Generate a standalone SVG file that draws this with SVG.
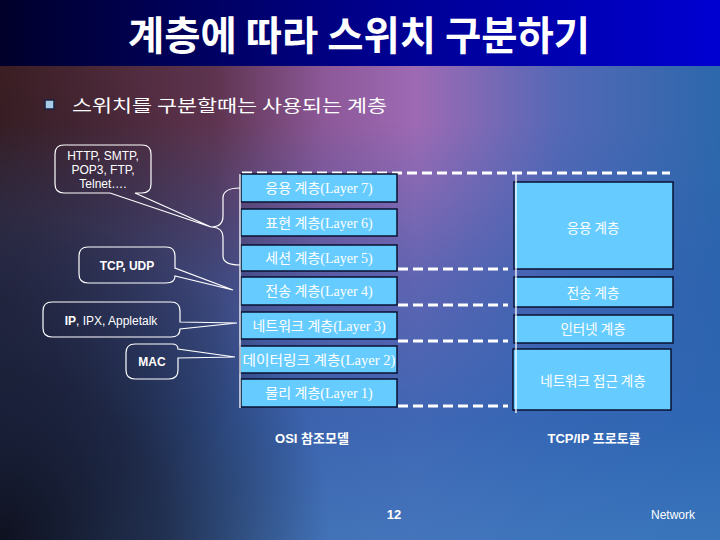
<svg xmlns="http://www.w3.org/2000/svg" width="720" height="540" viewBox="0 0 720 540">
<defs>
<linearGradient id="titleG" x1="0" y1="0" x2="1" y2="0">
<stop offset="0" stop-color="#00002a"/>
<stop offset="0.5" stop-color="#00008a"/>
<stop offset="1" stop-color="#0000d2"/>
</linearGradient>
<linearGradient id="bgH" x1="0" y1="0" x2="1" y2="0">
<stop offset="0" stop-color="#3c1e22"/>
<stop offset="0.3" stop-color="#5e3450"/>
<stop offset="0.45" stop-color="#8c5898"/>
<stop offset="0.58" stop-color="#9e6ab4"/>
<stop offset="0.78" stop-color="#5468b6"/>
<stop offset="1" stop-color="#2c68ac"/>
</linearGradient>
<linearGradient id="bgV" x1="0" y1="0" x2="0" y2="1">
<stop offset="0.12" stop-color="#2c62b0" stop-opacity="0"/>
<stop offset="0.45" stop-color="#2c60b0" stop-opacity="0.55"/>
<stop offset="0.75" stop-color="#2e66b4" stop-opacity="0.85"/>
<stop offset="1" stop-color="#3a76bc" stop-opacity="0.9"/>
</linearGradient>
<radialGradient id="bgDark" cx="0" cy="540" r="330" gradientUnits="userSpaceOnUse">
<stop offset="0" stop-color="#0c0c18" stop-opacity="0.95"/>
<stop offset="0.5" stop-color="#161628" stop-opacity="0.7"/>
<stop offset="1" stop-color="#1a1a30" stop-opacity="0"/>
</radialGradient>
<radialGradient id="bgDark2" cx="0" cy="300" r="260" gradientUnits="userSpaceOnUse">
<stop offset="0" stop-color="#201a2a" stop-opacity="0.6"/>
<stop offset="1" stop-color="#201a2a" stop-opacity="0"/>
</radialGradient>
<style>
.box{fill:#66ccff;stroke:#0a1030;stroke-width:1.5}
.lt{font-family:"Liberation Serif","Noto Sans CJK KR",serif;font-size:14px;fill:#ffffff;text-anchor:middle}
.rt{font-family:"Noto Sans CJK KR","Liberation Sans",sans-serif;font-size:13.5px;fill:#ffffff;text-anchor:middle}
.co{fill:none;stroke:#ffffff;stroke-width:1.2}
.ct{font-family:"Liberation Sans","Noto Sans CJK KR",sans-serif;font-size:12px;fill:#ffffff;text-anchor:middle}
.b{font-weight:bold}
.dash{stroke:#ffffff;stroke-width:3;stroke-dasharray:10 5;fill:none}
.vl{stroke:#ffffff;stroke-width:1.3;fill:none}
.cap{font-family:"Liberation Sans","Noto Sans CJK KR",sans-serif;font-size:13px;font-weight:bold;fill:#ffffff;text-anchor:middle}
</style>
</defs>

<rect x="0" y="0" width="720" height="540" fill="url(#bgH)"/>
<rect x="0" y="66" width="720" height="474" fill="url(#bgV)"/>
<rect x="0" y="66" width="720" height="474" fill="url(#bgDark2)"/>
<rect x="0" y="66" width="720" height="474" fill="url(#bgDark)"/>
<rect x="0" y="0" width="720" height="66" fill="url(#titleG)"/>

<g id="title">
<text x="359" y="50" font-family="Noto Sans CJK KR, sans-serif" font-weight="bold" font-size="40" fill="#ffffff" text-anchor="middle" textLength="462" lengthAdjust="spacingAndGlyphs">계층에 따라 스위치 구분하기</text>
</g>

<g id="bullet">
<rect x="45" y="100" width="9" height="9" fill="#a8cce8" stroke="#1a2040" stroke-width="1.5"/>
<text x="72" y="112" font-family="Noto Sans CJK KR, sans-serif" font-size="17" fill="#ffffff" textLength="315" lengthAdjust="spacingAndGlyphs">스위치를 구분할때는 사용되는 계층</text>
</g>

<g id="connectors">
<line class="dash" x1="242" y1="173" x2="670" y2="173"/>
<line class="dash" x1="398" y1="269" x2="508" y2="269"/>
<line class="dash" x1="398" y1="305" x2="508" y2="305"/>
<line class="dash" x1="398" y1="341" x2="508" y2="341"/>
<line class="dash" x1="398" y1="406" x2="508" y2="406"/>
<path class="co" d="M 240,188 Q 223,188 223,198 V 216 Q 223,227 211,227 Q 223,227 223,238 V 256 Q 223,265 240,265"/>
</g>

<g id="osi-7"><rect class="box" x="241" y="174" width="156" height="28"/><text class="lt" x="319" y="193">응용 계층(Layer 7)</text></g>
<g id="osi-6"><rect class="box" x="241" y="209" width="156" height="27"/><text class="lt" x="319" y="228">표현 계층(Layer 6)</text></g>
<g id="osi-5"><rect class="box" x="241" y="245" width="156" height="26"/><text class="lt" x="319" y="263">세션 계층(Layer 5)</text></g>
<g id="osi-4"><rect class="box" x="241" y="277" width="156" height="28"/><text class="lt" x="319" y="296">전송 계층(Layer 4)</text></g>
<g id="osi-3"><rect class="box" x="241" y="312" width="156" height="27"/><text class="lt" x="319" y="331">네트워크 계층(Layer 3)</text></g>
<g id="osi-2"><rect class="box" x="240" y="346" width="157" height="27"/><text class="lt" x="319" y="365" textLength="153" lengthAdjust="spacingAndGlyphs">데이터링크 계층(Layer 2)</text></g>
<g id="osi-1"><rect class="box" x="241" y="379" width="156" height="28"/><text class="lt" x="319" y="398">물리 계층(Layer 1)</text></g>

<g id="tcp-app"><rect class="box" x="514" y="182" width="159" height="87"/><text class="rt" x="593" y="233">응용 계층</text></g>
<g id="tcp-transport"><rect class="box" x="514" y="277" width="159" height="30"/><text class="rt" x="593" y="298">전송 계층</text></g>
<g id="tcp-internet"><rect class="box" x="514" y="315" width="159" height="28"/><text class="rt" x="593" y="334">인터넷 계층</text></g>
<g id="tcp-netaccess"><rect class="box" x="513" y="349" width="158" height="61"/><text class="rt" x="593" y="386">네트워크 접근 계층</text></g>

<g id="separators">
<line class="vl" x1="240" y1="174" x2="240" y2="408"/>
<line class="vl" x1="516" y1="174" x2="516" y2="413"/>
</g>

<g id="callout-app">
<path class="co" d="M 64,145 H 142 Q 151,145 151,154 V 184 Q 151,193 142,193 H 135 L 211,227 L 110,193 H 64 Q 55,193 55,184 V 154 Q 55,145 64,145 Z"/>
<text class="ct" x="103" y="160">HTTP, SMTP,</text>
<text class="ct" x="103" y="174">POP3, FTP,</text>
<text class="ct" x="103" y="188">Telnet….</text>
</g>
<g id="callout-tcp">
<path class="co" d="M 88,247 H 166 Q 175,247 175,256 V 268 L 233,290 L 175,276 Q 175,283 166,283 H 88 Q 79,283 79,274 V 256 Q 79,247 88,247 Z"/>
<text class="ct b" x="127" y="270">TCP, UDP</text>
</g>
<g id="callout-ip">
<path class="co" d="M 52,302 H 171 Q 180,302 180,311 V 322 L 237,323 L 180,329 Q 180,337 171,337 H 52 Q 43,337 43,328 V 311 Q 43,302 52,302 Z"/>
<text class="ct" x="111" y="325"><tspan font-weight="bold">IP</tspan>, IPX, Appletalk</text>
</g>
<g id="callout-mac">
<path class="co" d="M 135,344 H 172 Q 178,344 178,349 L 235,357 L 178,358 V 370 Q 178,379 169,379 H 135 Q 126,379 126,370 V 353 Q 126,344 135,344 Z"/>
<text class="ct b" x="152" y="366">MAC</text>
</g>

<g id="labels">
<text class="cap" x="312" y="443">OSI 참조모델</text>
<text class="cap" x="594" y="443">TCP/IP 프로토콜</text>
<text class="cap" x="394" y="519">12</text>
<text x="673" y="519" font-family="Liberation Sans, sans-serif" font-size="12" fill="#ffffff" text-anchor="middle">Network</text>
</g>
</svg>
